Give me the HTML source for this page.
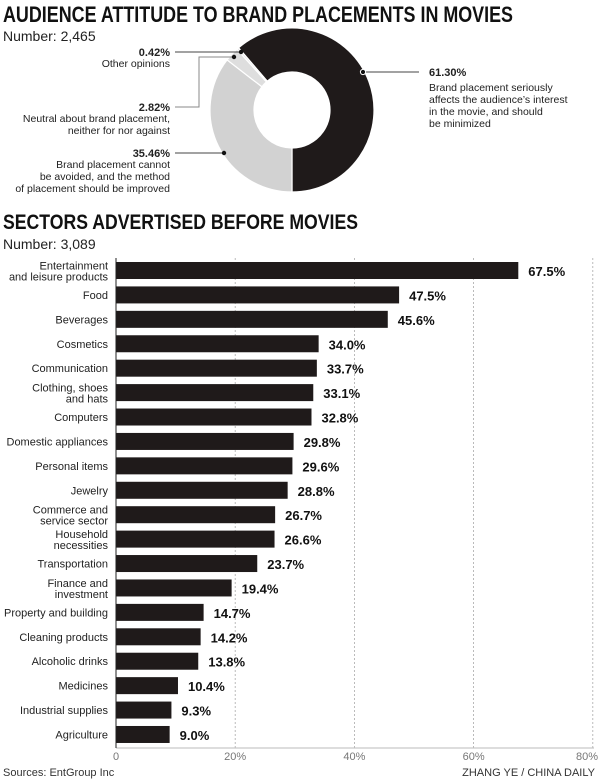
<!DOCTYPE html>
<html><head><meta charset="utf-8"><style>
html,body{margin:0;padding:0;background:#fff;}
svg{display:block;font-family:"Liberation Sans",sans-serif;}
.t{font-family:"Liberation Sans Narrow","Liberation Sans",sans-serif;font-weight:bold;fill:#111;}
</style></head><body>
<svg id="c" width="600" height="782" viewBox="0 0 600 782">
<text class="t" x="3" y="22" font-size="22" textLength="510" lengthAdjust="spacingAndGlyphs">AUDIENCE ATTITUDE TO BRAND PLACEMENTS IN MOVIES</text>
<text x="3" y="41" font-size="14" fill="#222">Number: 2,465</text>
<g id="donut"></g>
<g font-size="10.5" fill="#222">
<text x="170" y="56" text-anchor="end" font-weight="bold" font-size="11">0.42%</text>
<text x="170" y="67" text-anchor="end">Other opinions</text>
<line x1="175" y1="52" x2="239" y2="52" stroke="#444"/>
<circle cx="241" cy="52" r="2.2" fill="#111"/>
<text x="170" y="111" text-anchor="end" font-weight="bold" font-size="11">2.82%</text>
<text x="170" y="122" text-anchor="end">Neutral about brand placement,</text>
<text x="170" y="134" text-anchor="end">neither for nor against</text>
<polyline points="175,107 199,107 199,57 232,57" fill="none" stroke="#888"/>
<circle cx="234" cy="57" r="2.2" fill="#111"/>
<text x="170" y="157" text-anchor="end" font-weight="bold" font-size="11">35.46%</text>
<text x="170" y="168" text-anchor="end">Brand placement cannot</text>
<text x="170" y="180" text-anchor="end">be avoided, and the method</text>
<text x="170" y="192" text-anchor="end">of placement should be improved</text>
<line x1="175" y1="153" x2="222" y2="153" stroke="#444"/>
<circle cx="224" cy="153" r="2.2" fill="#111"/>
<text x="429" y="76" font-weight="bold" font-size="11">61.30%</text>
<text x="429" y="91">Brand placement seriously</text>
<text x="429" y="103">affects the audience’s interest</text>
<text x="429" y="115">in the movie, and should</text>
<text x="429" y="127">be minimized</text>
<line x1="366" y1="72" x2="419" y2="72" stroke="#444"/>
<circle cx="363" cy="72" r="2.6" fill="#111" stroke="#fff"/>
</g>
<text class="t" x="3" y="229" font-size="21" textLength="355" lengthAdjust="spacingAndGlyphs">SECTORS ADVERTISED BEFORE MOVIES</text>
<text x="3" y="249" font-size="14" fill="#222">Number: 3,089</text>
<g id="bars"></g>
<text x="3" y="776" font-size="11" fill="#333">Sources: EntGroup Inc</text>
<text x="595" y="776" font-size="11" fill="#333" text-anchor="end">ZHANG YE / CHINA DAILY</text>
</svg>
<script>
const donutValues=[61.30,35.46,2.82,0.42];
const donutColors=['#1f1a1a','#d2d2d2','#dedede','#e6e6e6'];
const categories=[["Entertainment","and leisure products"],["Food"],["Beverages"],["Cosmetics"],["Communication"],["Clothing, shoes","and hats"],["Computers"],["Domestic appliances"],["Personal items"],["Jewelry"],["Commerce and","service sector"],["Household","necessities"],["Transportation"],["Finance and","investment"],["Property and building"],["Cleaning products"],["Alcoholic drinks"],["Medicines"],["Industrial supplies"],["Agriculture"]];
const values=[67.5,47.5,45.6,34.0,33.7,33.1,32.8,29.8,29.6,28.8,26.7,26.6,23.7,19.4,14.7,14.2,13.8,10.4,9.3,9.0];
const ticks=[0,20,40,60,80];
const NS='http://www.w3.org/2000/svg';
function mk(t,a,p){const e=document.createElementNS(NS,t);for(const k in a)e.setAttribute(k,a[k]);p.appendChild(e);return e;}
const dg=document.getElementById('donut');
const cx=292,cy=110,R=82,r=38;
const total=donutValues.reduce((a,b)=>a+b,0);
let ang=180-donutValues[0]/total*360;
function pt(a,rad){const t=(a-90)*Math.PI/180;return [cx+rad*Math.cos(t),cy+rad*Math.sin(t)];}
donutValues.forEach((v,i)=>{
  const a0=ang,a1=ang+v/total*360;ang=a1;
  const [x0,y0]=pt(a0,R),[x1,y1]=pt(a1,R),[x2,y2]=pt(a1,r),[x3,y3]=pt(a0,r);
  const lg=(a1-a0)>180?1:0;
  const p=mk('path',{d:`M${x0},${y0}A${R},${R} 0 ${lg} 1 ${x1},${y1}L${x2},${y2}A${r},${r} 0 ${lg} 0 ${x3},${y3}Z`,fill:donutColors[i],stroke:'#fff','stroke-width':1.2},dg);
  
  
});
const bg=document.getElementById('bars');
const x0=116,xs=5.96,y0=262,step=24.42,bh=17,axisY=748;
const X=v=>x0+v*xs;
ticks.forEach((t,k)=>{
  if(t>0){const l=mk('line',{x1:X(t),x2:X(t),y1:258,y2:axisY,stroke:'#aaa','stroke-dasharray':'2,2','stroke-width':0.8},bg);
  
  }
  const last=k===ticks.length-1;
  const tx=mk('text',{x:last?598:X(t),y:760,'text-anchor':last?'end':'middle','font-size':11,fill:'#777'},bg);
  tx.textContent=t===0?'0':t+'%';
  
  
});
values.forEach((v,i)=>{
  const y=y0+i*step;
  const b=mk('rect',{x:x0,y:y,width:v*xs,height:bh,fill:'#1f1a1a'},bg);
  
  
  const lab=categories[i];
  lab.forEach((s,j)=>{
    const ty=lab.length===1?y+12.5:y+7.5+j*11;
    const t=mk('text',{x:108,y:ty,'text-anchor':'end','font-size':11,fill:'#222'},bg);
    t.textContent=s;
    
    
  });
  const vt=mk('text',{x:X(v)+10,y:y+14,'font-size':13,'font-weight':'bold',fill:'#111'},bg);
  vt.textContent=v.toFixed(1)+'%';
  
  
});
const ax=mk('line',{x1:x0,x2:594,y1:axisY,y2:axisY,stroke:'#bbb'},bg);


const ay=mk('line',{x1:x0,x2:x0,y1:258,y2:axisY,stroke:'#222'},bg);


</script>
</body></html>
